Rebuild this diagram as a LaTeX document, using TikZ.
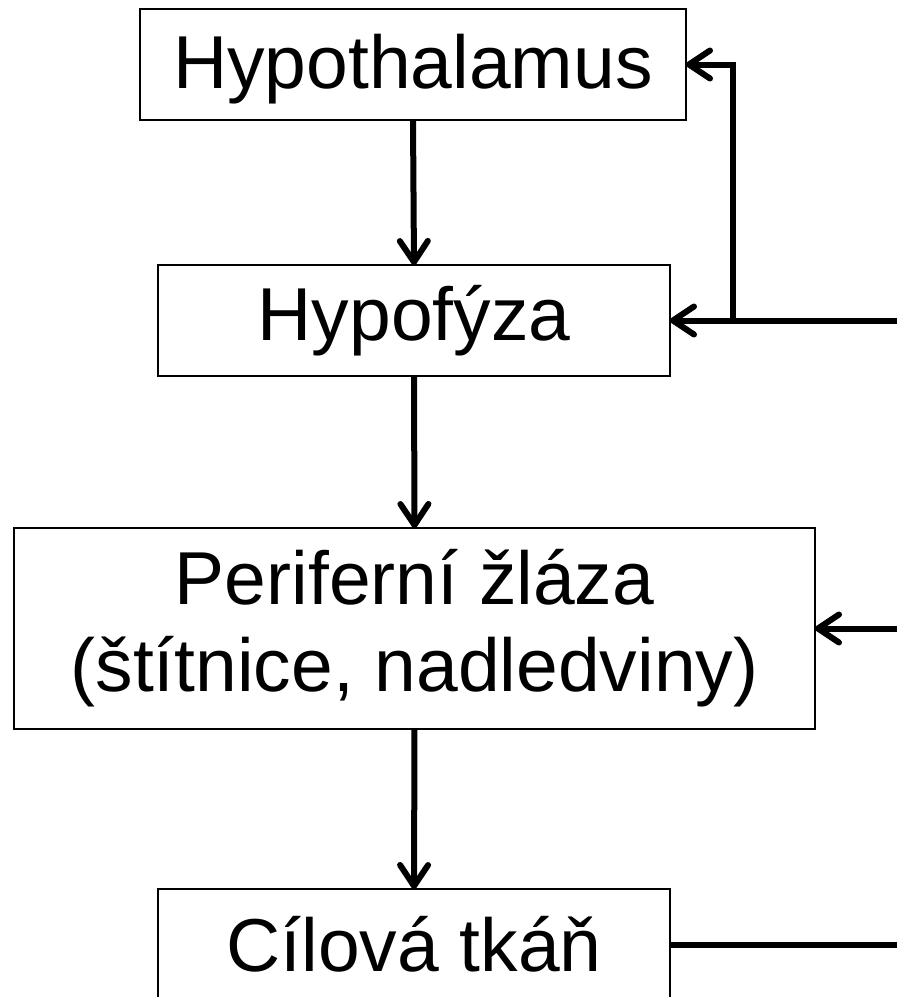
\documentclass[tikz,border=0pt]{standalone}
\usepackage{fontspec}
\setmainfont{Liberation Sans}
\usetikzlibrary{arrows.meta}
\begin{document}
\begin{tikzpicture}[x=1pt,y=-1pt,
  box/.style={draw, line width=2.4pt, inner sep=0pt, outer sep=0pt, align=center,
    font=\fontsize{75}{87}\selectfont},
  arr/.style={line width=6pt, -{Straight Barb[length=21pt,width=28pt,round]}},
  ln/.style={line width=6pt}]
\useasboundingbox (0,0) rectangle (897,997);
\node[box, minimum width=546pt, minimum height=111pt, text height=64pt, text depth=16pt] (hyp) at (413,64.5) {Hypothalamus};
\node[box, minimum width=512pt, minimum height=111pt] (hypo) at (414,320.5) {Hypofýza};
\node[box, minimum width=801pt, minimum height=201pt] (per) at (414.5,628.5) {Periferní žláza\\(štítnice, nadledviny)};
\node[box, minimum width=512pt, minimum height=111pt] (cil) at (414,944.5) {Cílová tkáň};
\coordinate (in1) at (905,320.5);
\coordinate (j) at (733,320.5);
\coordinate (in2) at (905,628.5);
\coordinate (out) at (905,944.5);
\draw[arr] (hyp.south) -- (hypo.north);
\draw[arr] (hypo.south) -- (per.north);
\draw[arr] (per.south) -- (cil.north);
\draw[arr] (in1) -- (hypo.east);
\draw[arr] (j) |- (hyp.east);
\draw[arr] (in2) -- (per.east);
\draw[ln] (cil.east) -- (out);
\end{tikzpicture}
\end{document}
